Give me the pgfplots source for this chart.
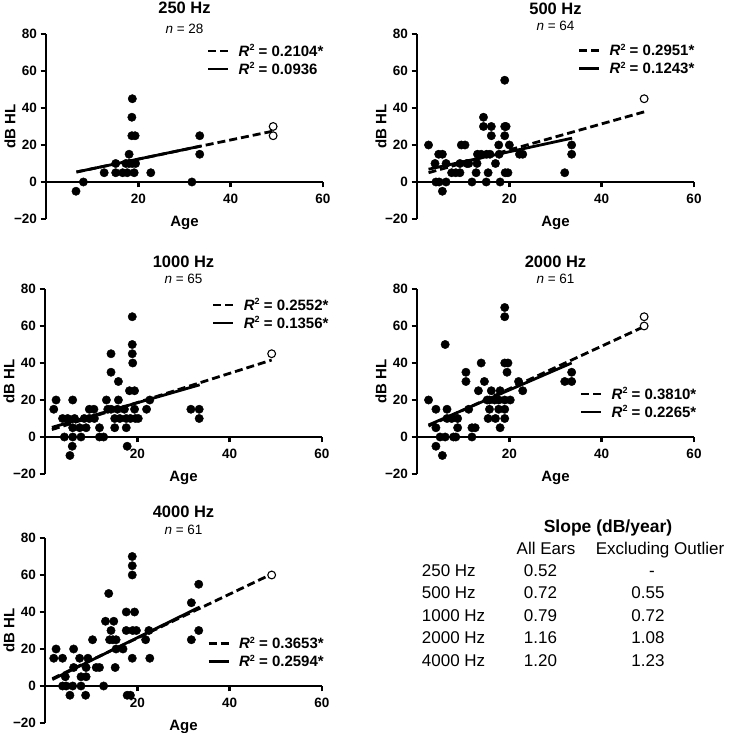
\documentclass[border=0pt]{standalone}
\usepackage{pgfplots}
\pgfplotsset{compat=1.18}
\usepackage{fontspec}
\setmainfont{Liberation Sans}

\pgfplotsset{
 panel/.style={
  scale only axis, width=277bp, height=185bp, anchor=south west,
  xmin=0, xmax=60, ymin=-20, ymax=80,
  axis x line=middle, axis y line=left,
  axis line style={line width=2.6bp, -},
  xtick={20,40,60}, xticklabels={20,40,60},
  ytick={-20,0,20,40,60,80}, yticklabels={−20,0,20,40,60,80},
  tick align=outside, major tick length=5.5bp,
  tick style={line width=2.6bp, black},
  tick label style={font=\bfseries\fontsize{13.5bp}{15bp}\selectfont},
  xticklabel style={yshift=-3.5bp},
  xlabel={Age}, ylabel={dB HL},
  xlabel style={at={(axis description cs:0.5,0)}, anchor=center, yshift=-3.5bp, font=\bfseries\fontsize{15bp}{17bp}\selectfont},
  ylabel style={at={(axis description cs:-0.13,0.5)}, anchor=center, font=\bfseries\fontsize{15bp}{17bp}\selectfont},
  clip=false,
  legend cell align=left,
  legend image code/.code={\draw[##1] (0bp,0bp) -- (20bp,0bp);},
  legend style={draw=none, fill=none, inner sep=0pt, outer sep=0pt,
    row sep=7.5bp, column sep=9bp,
    font=\bfseries\fontsize{15bp}{17bp}\selectfont,
    nodes={inner sep=0pt, text height=10.5bp, text depth=0bp}},
 },
 dot/.style={only marks, mark=*, mark size=4.2bp, black, forget plot},
 opendot/.style={only marks, mark=*, mark size=3.9bp, mark options={fill=white, draw=black, line width=1.1bp}, forget plot},
 fitall/.style={black, line width=2.8bp, dash pattern=on 8bp off 4bp, no marks},
 fitexcl/.style={black, line width=2.8bp, no marks},
}
\newcommand{\ptitle}[3]{%
 \node[anchor=base, font=\bfseries\fontsize{16.5bp}{18bp}\selectfont] at ([yshift=#2]axis description cs:0.5,1) {#1};
 \node[anchor=base, font=\fontsize{13.5bp}{15bp}\selectfont] at ([yshift=#3]axis description cs:0.5,1) {\textit{n} = \csname ptn\endcsname};}
\newcommand{\rsq}[1]{\textit{R}{\fontsize{9bp}{10bp}\selectfont\raisebox{5.5bp}{2}} = #1}

\begin{document}
\begin{tikzpicture}
\useasboundingbox (0,0) rectangle (729bp,733bp);

% ---------- 250 Hz ----------
\begin{axis}[panel, at={(46bp,514bp)},
  legend style={at={(axis description cs:0.581,0.9365)}, anchor=north west}]
\addplot[dot] coordinates {(6.5,-5) (8.1,0) (12.6,5) (15.1,10) (15.1,5) (16.6,5) (17.3,10) (17.6,5) (18.0,15) (18.0,10) (18.7,10) (19.1,5) (19.4,10) (22.7,5) (18.6,25) (19.3,25) (18.6,35) (18.7,45) (31.6,0) (33.3,25) (33.3,15)};
\addplot[opendot] coordinates {(49.2,30) (49.2,25)};
\addplot[fitall] coordinates {(6.6,5.4) (49.2,27.5)};
\addlegendentry{\rsq{0.2104*}}
\addplot[fitexcl] coordinates {(6.6,5.4) (33.5,19.4)};
\addlegendentry{\rsq{0.0936}}
\def\ptn{28}\ptitle{250 Hz}{20.3bp}{0.5bp}
\end{axis}

% ---------- 500 Hz ----------
\begin{axis}[panel, at={(417bp,514bp)},
  legend style={at={(axis description cs:0.581,0.938)}, anchor=north west}]
\addplot[dot] coordinates {(2.5,20) (9.6,20) (10.4,20) (17.7,20) (20.0,20) (33.5,20)
(5.5,-5)
(4.1,0) (4.8,0) (6.3,0) (11.9,0) (15.0,0) (18.0,0)
(7.5,5) (8.4,5) (9.3,5) (12.8,5) (15.4,5) (19.1,5) (19.7,5) (32.0,5)
(3.9,10) (6.3,10) (9.3,10) (10.8,10) (11.2,10) (13.0,10) (17.0,10)
(4.7,15) (5.5,15) (13.1,15) (13.9,15) (15.1,15) (15.8,15) (17.8,15) (22.2,15) (22.9,15) (33.5,15)
(16.1,25) (19.0,25)
(14.4,30) (16.1,30) (19.0,30) (19.3,30)
(14.4,35) (19.0,55)};
\addplot[opendot] coordinates {(49.2,45)};
\addplot[fitall] coordinates {(2.5,5.0) (49.2,37.9)};
\addlegendentry{\rsq{0.2951*}}
\addplot[fitexcl] coordinates {(2.5,6.9) (33.6,23.7)};
\addlegendentry{\rsq{0.1243*}}
\def\ptn{64}\ptitle{500 Hz}{19.6bp}{3.5bp}
\end{axis}

% ---------- 1000 Hz ----------
\begin{axis}[panel, at={(45bp,259bp)},
  legend style={at={(axis description cs:0.603,0.942)}, anchor=north west}]
\addplot[dot] coordinates {(18.9,65) (18.9,50) (14.3,45) (18.9,45) (19.0,40) (14.3,35) (15.9,30) (18.3,25) (19.4,25)
(2.4,20) (6.0,20) (13.3,20) (15.9,20) (22.7,20)
(1.9,15) (9.6,15) (10.6,15) (13.6,15) (14.3,15) (15.7,15) (17.2,15) (19.4,15) (22.0,15) (31.6,15) (33.4,15)
(3.8,10) (4.9,10) (6.4,10) (8.5,10) (9.6,10) (10.7,10) (15.1,10) (16.2,10) (17.6,10) (18.5,10) (19.6,10) (20.2,10) (33.4,10)
(6.0,5) (7.5,5) (8.9,5) (11.8,5) (15.1,5) (17.6,5)
(4.2,0) (6.0,0) (7.8,0) (11.8,0) (12.7,0)
(5.9,-5) (17.8,-5) (5.4,-10)};
\addplot[opendot] coordinates {(49.1,45)};
\addplot[fitall] coordinates {(1.5,4.0) (49.1,41.6)};
\addlegendentry{\rsq{0.2552*}}
\addplot[fitexcl] coordinates {(1.5,5.2) (33.5,28.2)};
\addlegendentry{\rsq{0.1356*}}
\def\ptn{65}\ptitle{1000 Hz}{21.6bp}{5bp}
\end{axis}

% ---------- 2000 Hz ----------
\begin{axis}[panel, at={(417bp,259bp)},
  legend style={at={(axis description cs:0.588,0.461)}, anchor=north west}]
\addplot[dot] coordinates {(19.0,70) (19.0,65) (6.1,50)
(13.9,40) (19.0,40) (19.7,40)
(10.6,35) (19.5,35) (33.5,35)
(10.6,30) (14.6,30) (22.0,30) (32.0,30) (33.5,30)
(13.3,25) (16.1,25) (18.0,25) (22.9,25)
(2.5,20) (15.2,20) (15.7,20) (16.8,20) (17.7,20) (19.0,20) (20.2,20)
(4.1,15) (6.5,15) (11.2,15) (15.7,15) (17.7,15) (19.0,15)
(6.5,10) (7.5,10) (8.8,10) (15.4,10) (17.0,10) (19.0,10)
(4.1,5) (8.8,5) (11.9,5) (12.6,5) (18.0,5)
(5.0,0) (6.1,0) (7.9,0) (8.4,0) (11.9,0)
(4.1,-5) (5.5,-10)};
\addplot[opendot] coordinates {(49.2,65) (49.2,60)};
\addplot[fitall] coordinates {(2.5,5.9) (49.2,59.7)};
\addlegendentry{\rsq{0.3810*}}
\addplot[fitexcl] coordinates {(2.5,6.5) (33.5,40.0)};
\addlegendentry{\rsq{0.2265*}}
\def\ptn{61}\ptitle{2000 Hz}{21.6bp}{5bp}
\end{axis}

% ---------- 4000 Hz ----------
\begin{axis}[panel, at={(45bp,10bp)},
  legend style={at={(axis description cs:0.586,0.457)}, anchor=north west}]
\addplot[dot] coordinates {(18.9,70) (18.9,65) (18.9,60) (33.3,55) (13.8,50) (31.7,45)
(17.6,40) (19.4,40)
(13.1,35) (14.9,35)
(14.3,30) (17.6,30) (19.0,30) (19.8,30) (22.5,30) (33.3,30)
(10.3,25) (14.0,25) (14.7,25) (15.4,25) (21.8,25) (31.7,25)
(2.4,20) (6.2,20) (15.4,20) (16.9,20)
(1.9,15) (3.8,15) (7.5,15) (9.3,15) (18.9,15) (22.7,15)
(6.2,10) (8.9,10) (11.1,10) (11.8,10) (15.2,10)
(4.4,5) (7.8,5) (8.9,5)
(3.8,0) (4.6,0) (6.0,0) (7.8,0) (12.7,0)
(5.4,-5) (8.8,-5) (17.8,-5) (18.5,-5)};
\addplot[opendot] coordinates {(49.1,60)};
\addplot[fitall] coordinates {(1.6,4.0) (49.1,60.5)};
\addlegendentry{\rsq{0.3653*}}
\addplot[fitexcl] coordinates {(1.6,3.5) (33.5,42.7)};
\addlegendentry{\rsq{0.2594*}}
\def\ptn{61}\ptitle{4000 Hz}{20.3bp}{3.5bp}
\end{axis}

% ---------- slope table ----------
\begin{scope}[every node/.style={font=\fontsize{17bp}{19bp}\selectfont, anchor=base, inner sep=0pt}]
\node[font=\bfseries\fontsize{17.5bp}{19bp}\selectfont] at (608bp,200.7bp) {Slope (dB/year)};
\node at (546bp,178.9bp) {All Ears};
\node at (660bp,178.9bp) {Excluding Outlier};
\node[anchor=base west] at (421.7bp,156.9bp) {250 Hz};
\node[anchor=base west] at (421.7bp,134.2bp) {500 Hz};
\node[anchor=base west] at (421.7bp,111.9bp) {1000 Hz};
\node[anchor=base west] at (421.7bp,89.4bp) {2000 Hz};
\node[anchor=base west] at (421.7bp,66.9bp) {4000 Hz};
\node at (540.5bp,156.9bp) {0.52};
\node at (540.5bp,134.2bp) {0.72};
\node at (540.5bp,111.9bp) {0.79};
\node at (540.5bp,89.4bp) {1.16};
\node at (540.5bp,66.9bp) {1.20};
\node at (652bp,156.9bp) {-};
\node at (648bp,134.2bp) {0.55};
\node at (648bp,111.9bp) {0.72};
\node at (648bp,89.4bp) {1.08};
\node at (648bp,66.9bp) {1.23};
\end{scope}
\end{tikzpicture}
\end{document}
